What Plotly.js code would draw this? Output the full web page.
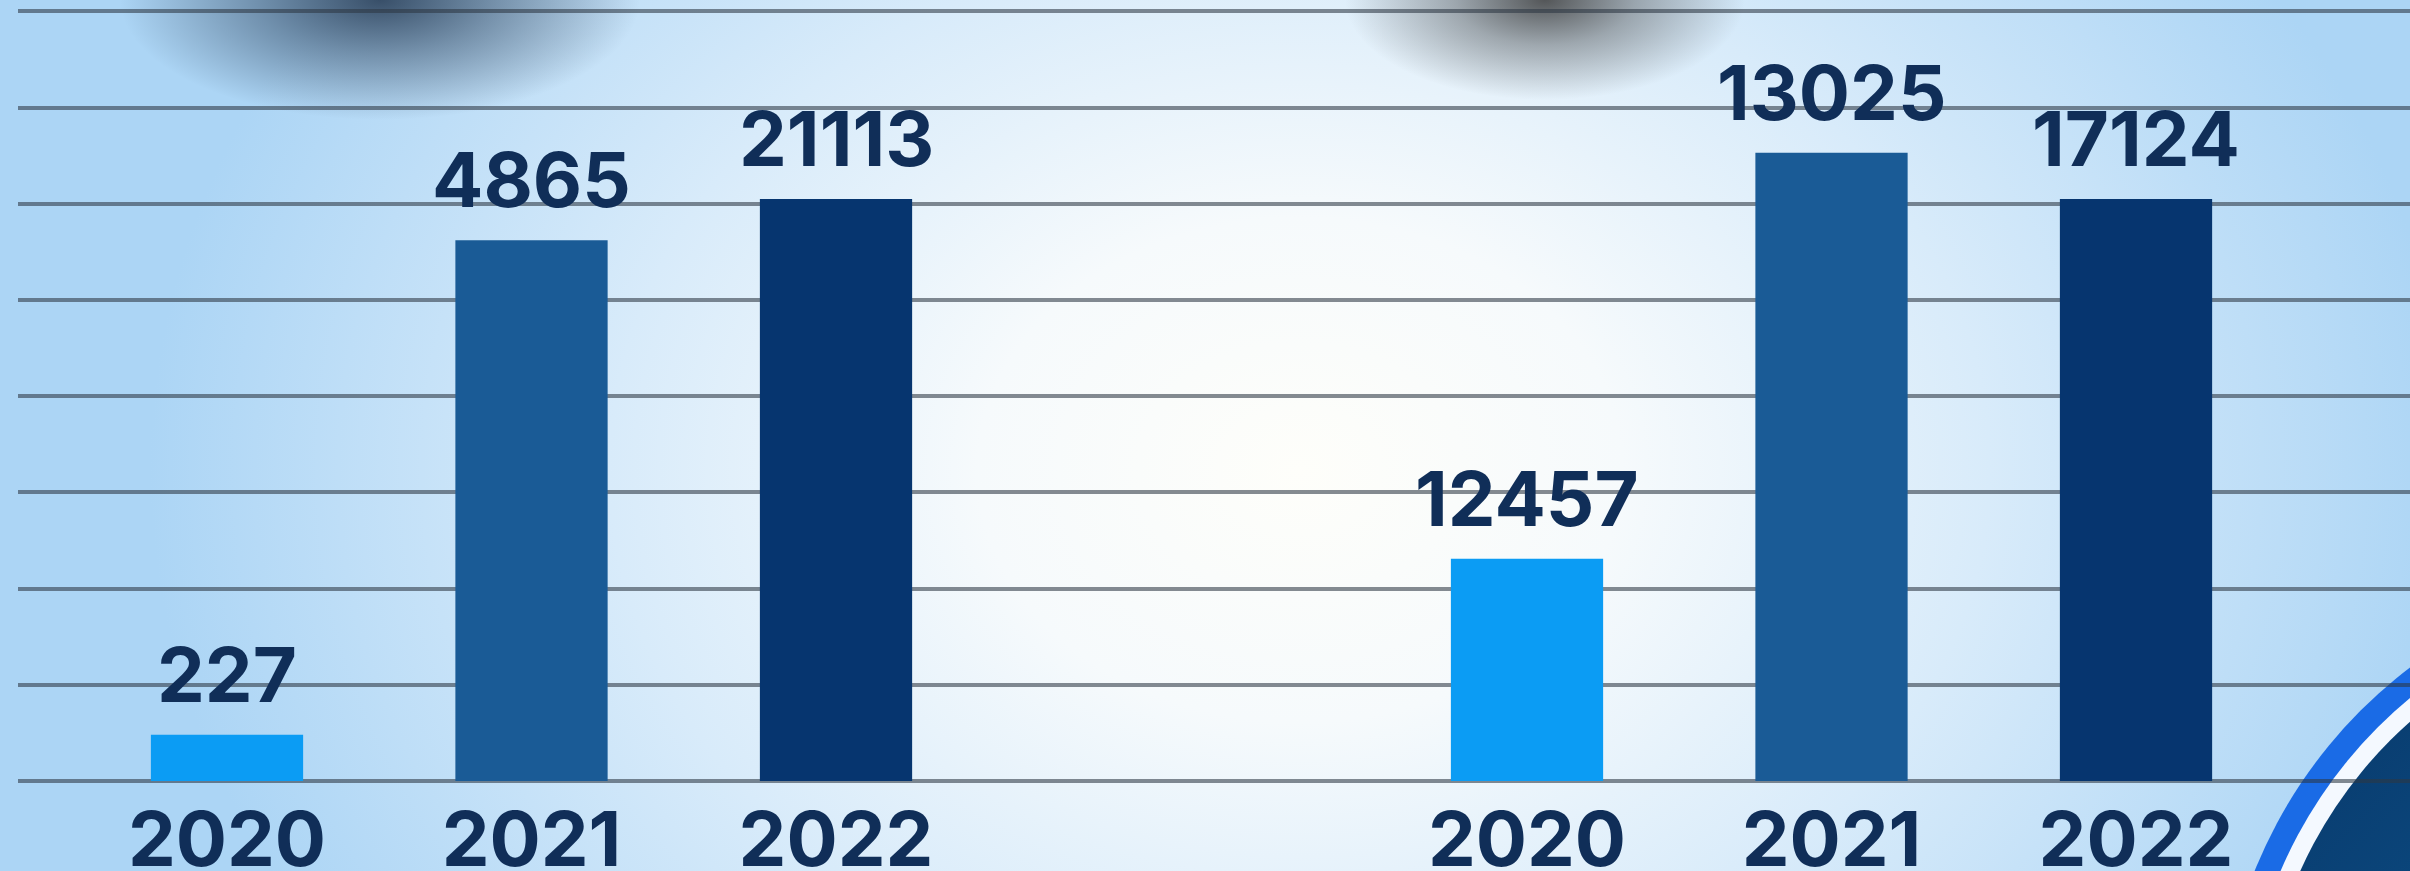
<!DOCTYPE html>
<html>
<head>
<meta charset="utf-8">
<script src="https://cdn.plot.ly/plotly-3.0.1.min.js"></script>
<style>
  html, body { margin: 0; padding: 0; }
  #wrap {
    position: relative; width: 2410px; height: 871px; overflow: hidden;
    background:
      radial-gradient(ellipse 260px 120px at 380px 0px, rgba(35,55,80,0.85) 0%, rgba(35,55,80,0.45) 45%, rgba(35,55,80,0) 100%),
      radial-gradient(ellipse 200px 100px at 1545px 0px, rgba(60,60,60,0.85) 0%, rgba(60,60,60,0.40) 45%, rgba(60,60,60,0) 100%),
      radial-gradient(ellipse 1150px 900px at 1300px 470px, #fefefa 0%, #f6fafc 28%, #d8ebfa 60%, #acd5f5 100%);
  }
  .ring { position: absolute; border-radius: 50%; }
  #plot { position: absolute; left: 0; top: 0; width: 2410px; height: 871px; }
</style>
</head>
<body>
<div id="wrap">
  <div class="ring" style="left:2220px; top:570px; width:960px; height:960px; background:#1a6be6;"></div>
  <div class="ring" style="left:2244px; top:594px; width:912px; height:912px; background:#f4f9ff;"></div>
  <div class="ring" style="left:2262px; top:612px; width:876px; height:876px; background:linear-gradient(135deg,#083566 0%,#0c5088 40%,#1170a6 100%);"></div>
  <div id="plot"></div>
</div>
<script>
// Categories
const years = ['2020', '2021', '2022'];
// Value labels printed above the bars
const leftLabels = [227, 4865, 21113];
const rightLabels = [12457, 13025, 17124];
// Bar heights as drawn in the picture (in gridline units)
const leftHeights = [0.48, 5.62, 6.05];
const rightHeights = [2.31, 6.53, 6.05];
// Bar colours per year
const barColors = ['#0b9cf4', '#1a5b96', '#06356f'];

const navy = '#102e58';
const fontFam = 'Inter, "Open Sans", sans-serif';

const traces = [
  { type: 'bar', x: years, y: leftHeights, xaxis: 'x', yaxis: 'y',
    marker: { color: barColors }, width: 0.5, hoverinfo: 'none', showlegend: false },
  { type: 'bar', x: years, y: rightHeights, xaxis: 'x2', yaxis: 'y',
    marker: { color: barColors }, width: 0.5, hoverinfo: 'none', showlegend: false }
];

const annFont = { family: fontFam, size: 76, color: navy, weight: 700 };
const annotations = [];
years.forEach((yr, i) => {
  annotations.push({ xref: 'x', yref: 'y', x: i, y: leftHeights[i], text: String(leftLabels[i]),
    showarrow: false, yanchor: 'bottom', yshift: 13, font: annFont });
  annotations.push({ xref: 'x2', yref: 'y', x: i, y: rightHeights[i], text: String(rightLabels[i]),
    showarrow: false, yanchor: 'bottom', yshift: 13, font: annFont });
});

const unit = 304.5;          // px per category
const plotW = 2410 - 18;
const leftStart = -(227 - 18) / unit;
const rightStart = -(1527 - 18) / unit;

const gridCol = 'rgba(45,55,68,0.58)';
const tickFont = { family: fontFam, size: 76, color: navy, weight: 700 };

const layout = {
  width: 2410, height: 871,
  margin: { l: 18, r: 0, t: 0, b: 90 },
  paper_bgcolor: 'rgba(0,0,0,0)', plot_bgcolor: 'rgba(0,0,0,0)',
  bargap: 0.5,
  xaxis: { type: 'category', categoryorder: 'array', categoryarray: years,
    range: [leftStart, leftStart + plotW / unit], showgrid: false, zeroline: false,
    showline: false, ticks: '', tickfont: tickFont, ticklabelstandoff: 8, fixedrange: true },
  xaxis2: { type: 'category', categoryorder: 'array', categoryarray: years,
    overlaying: 'x', anchor: 'y', side: 'bottom',
    range: [rightStart, rightStart + plotW / unit], showgrid: false, zeroline: false,
    showline: false, ticks: '', tickfont: tickFont, ticklabelstandoff: 8, fixedrange: true },
  yaxis: { range: [0, 781 / 96.2], dtick: 1, tick0: 0, showticklabels: false,
    showgrid: true, gridcolor: gridCol, gridwidth: 4,
    zeroline: true, zerolinecolor: gridCol, zerolinewidth: 4, showline: false, fixedrange: true },
  annotations: annotations
};

Plotly.newPlot('plot', traces, layout, { staticPlot: true, displayModeBar: false });
</script>
</body>
</html>
